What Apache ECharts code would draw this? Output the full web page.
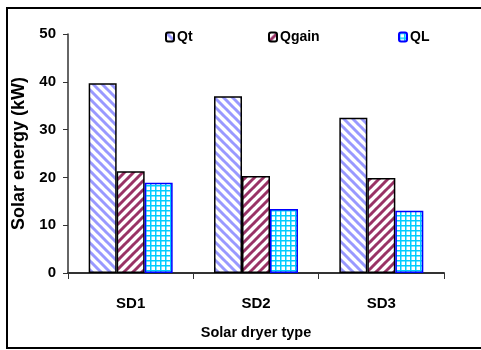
<!DOCTYPE html>
<html>
<head>
<meta charset="utf-8">
<script src="https://cdn.jsdelivr.net/npm/echarts@6/dist/echarts.min.js"></script>
<style>
html,body{margin:0;padding:0;background:#fff;}
#chartBar{width:481px;height:350px;}
</style>
</head>
<body>
<div id="chartBar"></div>
<script>
// data
var categories = ['SD1', 'SD2', 'SD3'];
var qtData = [39.7, 37.0, 32.5];
var qgainData = [21.3, 20.3, 19.9];
var qlData = [18.9, 13.4, 13.0];
var seriesNames = ['Qt', 'Qgain', 'QL'];

var font = '"Liberation Sans", Arial, sans-serif';

// hatch fills
function stripes(color, back){
    var s = 9;
    var c = document.createElement('canvas');
    c.width = s; c.height = s;
    var ctx = c.getContext('2d');
    ctx.fillStyle = '#fff';
    ctx.fillRect(0, 0, s, s);
    ctx.strokeStyle = color;
    ctx.lineWidth = 3;
    for (var k = -1; k <= 1; k++) {
        ctx.beginPath();
        if (back) {
            ctx.moveTo(k * s - 1, -1);
            ctx.lineTo(k * s + s + 1, s + 1);
        } else {
            ctx.moveTo(k * s - 1, s + 1);
            ctx.lineTo(k * s + s + 1, -1);
        }
        ctx.stroke();
    }
    return c;
}
function grid(color){
    var s = 5;
    var c = document.createElement('canvas');
    c.width = s; c.height = s;
    var ctx = c.getContext('2d');
    ctx.fillStyle = '#fff';
    ctx.fillRect(0, 0, s, s);
    ctx.fillStyle = color;
    ctx.fillRect(0, 0, s, 1.5);
    ctx.fillRect(0, 0, 1.5, s);
    return c;
}

function oneLegend(name, left){
    return {
        data: [name],
        top: 25,
        left: left,
        itemGap: 0,
        itemWidth: 8,
        itemHeight: 9,
        textStyle: { fontFamily: font, fontWeight: 'bold', fontSize: 14, color: '#000', padding: [0, 0, 0, -2] }
    };
}

var myChart = echarts.init(document.getElementById('chartBar'));
var option = {
    backgroundColor: '#fff',
    animation: false,
    graphic: [{
        type: 'rect',
        shape: { x: 7, y: 8, width: 490, height: 340 },
        style: { fill: 'none', stroke: '#000', lineWidth: 2 },
        silent: true
    }],
    legend: [
        oneLegend(seriesNames[0], 160),
        oneLegend(seriesNames[1], 263),
        oneLegend(seriesNames[2], 393)
    ],
    grid: {
        left: 68,
        right: 37,
        top: 34,
        bottom: 77
    },
    xAxis: [{
        type: 'category',
        data: categories,
        name: 'Solar dryer type',
        nameLocation: 'middle',
        nameGap: 52,
        nameTextStyle: { fontFamily: font, fontWeight: 'bold', fontSize: 14.5, color: '#000' },
        axisLine: { lineStyle: { color: '#333', width: 2 } },
        axisTick: { show: true, length: 6, lineStyle: { color: '#333' } },
        axisLabel: { margin: 23, fontFamily: font, fontWeight: 'bold', fontSize: 15, color: '#000' }
    }],
    yAxis: [{
        type: 'value',
        min: 0,
        max: 50,
        interval: 10,
        name: 'Solar energy (kW)',
        nameLocation: 'middle',
        nameGap: 29,
        nameTextStyle: { fontFamily: font, fontWeight: 'bold', fontSize: 18, color: '#000' },
        splitLine: { show: false },
        axisLine: { show: true, lineStyle: { color: '#333', width: 1.5 } },
        axisTick: { show: true, length: 5, lineStyle: { color: '#333' } },
        axisLabel: { margin: 12, fontFamily: font, fontWeight: 'bold', fontSize: 15, color: '#000' }
    }],
    series: [{
        name: seriesNames[0],
        type: 'bar',
        barGap: '0%',
        barCategoryGap: '33%',
        data: qtData,
        itemStyle: { color: { image: stripes('#9999ff', true), repeat: 'repeat' }, borderColor: '#000', borderWidth: 1.5 }
    }, {
        name: seriesNames[1],
        type: 'bar',
        data: qgainData,
        itemStyle: { color: { image: stripes('#993366', false), repeat: 'repeat' }, borderColor: '#000', borderWidth: 1.5 }
    }, {
        name: seriesNames[2],
        type: 'bar',
        data: qlData,
        itemStyle: { color: { image: grid('#00ccff'), repeat: 'repeat' }, borderColor: '#0000ff', borderWidth: 1.5 }
    }]
};
myChart.setOption(option);
</script>
</body>
</html>
